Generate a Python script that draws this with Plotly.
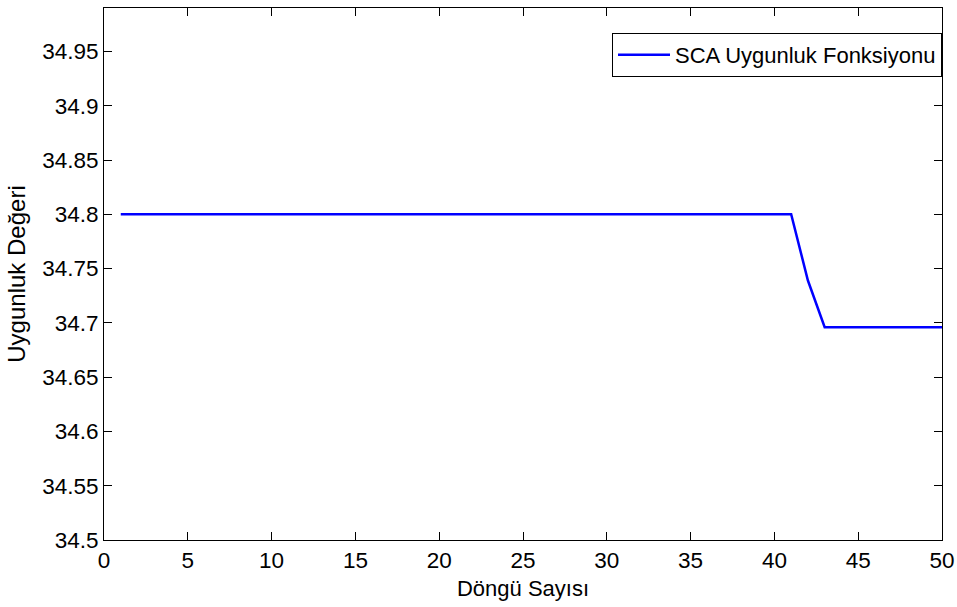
import plotly.graph_objects as go

# Iteration count and best fitness value per iteration
iterations = list(range(1, 51))
fitness = [34.8] * 41 + [34.739] + [34.696] * 8

x_ticks = [0, 5, 10, 15, 20, 25, 30, 35, 40, 45, 50]
y_ticks = [34.5, 34.55, 34.6, 34.65, 34.7, 34.75, 34.8, 34.85, 34.9, 34.95]
y_tick_text = ["34.5", "34.55", "34.6", "34.65", "34.7", "34.75", "34.8", "34.85", "34.9", "34.95"]

FONT = "Liberation Sans, Arial, Helvetica, sans-serif"

fig = go.Figure()
fig.add_trace(go.Scatter(
    x=iterations, y=fitness, mode="lines",
    name="SCA Uygunluk Fonksiyonu",
    line=dict(color="#0000FF", width=2.5),
))

axis_common = dict(
    showline=True, linecolor="black", linewidth=1, mirror="ticks",
    ticks="inside", ticklen=8, tickwidth=1, tickcolor="black",
    showgrid=False, zeroline=False, automargin=False,
    tickfont=dict(family=FONT, size=22.5, color="black"),
)

fig.update_xaxes(
    range=[0, 50], tickvals=x_ticks,
    title=dict(text="Döngü Sayısı", font=dict(family=FONT, size=22, color="black"), standoff=8),
    **axis_common,
)
fig.update_yaxes(
    range=[34.5, 34.99], tickvals=y_ticks, ticktext=y_tick_text,
    title=dict(text="Uygunluk Değeri", font=dict(family=FONT, size=24, color="black"), standoff=9),
    **axis_common,
)

fig.update_layout(
    width=957, height=607,
    margin=dict(l=104, r=15, t=8, b=67),
    paper_bgcolor="white", plot_bgcolor="white",
    showlegend=True,
    legend=dict(
        x=1.0, xanchor="right", y=0.953, yanchor="top",
        bgcolor="white", bordercolor="black", borderwidth=1,
        font=dict(family=FONT, size=22, color="black"),
        itemwidth=52,
    ),
)

fig.write_html("out.html")
